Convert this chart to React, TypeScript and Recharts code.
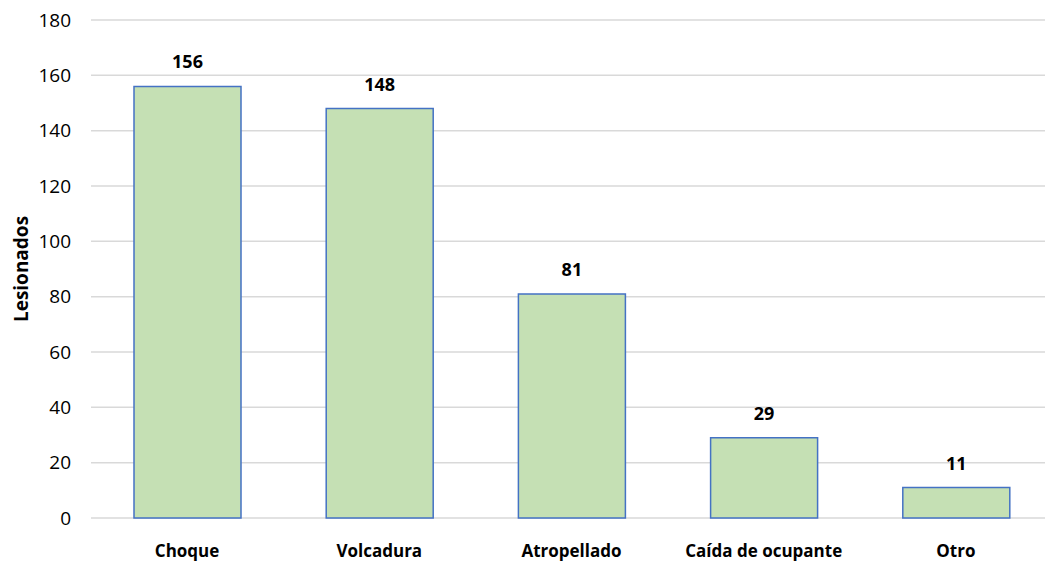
import React from 'react';
import { BarChart, Bar, XAxis, YAxis, CartesianGrid, LabelList } from 'recharts';

const categories = ['Choque', 'Volcadura', 'Atropellado', 'Caída de ocupante', 'Otro'];
const lesionados = [156, 148, 81, 29, 11];
const yTicks = [0, 20, 40, 60, 80, 100, 120, 140, 160, 180];

const data = categories.map((c, i) => ({ name: c, value: lesionados[i] }));

const FONT = "'Open Sans', 'Noto Sans', sans-serif";

const YLabel = (props: any) => {
  const vb = props.viewBox || {};
  const x = vb.x + 21;
  const y = vb.y + vb.height / 2;
  return (
    <text
      x={x}
      y={y}
      transform={`rotate(-90, ${x}, ${y})`}
      textAnchor="middle"
      dominantBaseline="central"
      fontFamily={FONT}
      fontWeight="bold"
      fontSize={19}
      fill="#000"
    >
      Lesionados
    </text>
  );
};

export default function App() {
  return (
    <div style={{ position: 'absolute', top: 0, left: 0, width: 1045, height: 566, overflow: 'hidden', background: '#fff' }}>
      <BarChart
        width={1052}
        height={566}
        data={data}
        margin={{ top: 20, right: 0, bottom: 8, left: 0 }}
      >
        <CartesianGrid vertical={false} stroke="#d9d9d9" strokeWidth={1.5} />
        <XAxis
          dataKey="name"
          axisLine={false}
          tickLine={false}
          tickSize={0}
          tickMargin={27}
          height={40}
          interval={0}
          tick={{ fontFamily: FONT, fontWeight: 'bold', fontSize: 17, fill: '#000' }}
        />
        <YAxis
          width={91}
          domain={[0, 180]}
          ticks={yTicks}
          axisLine={false}
          tickLine={false}
          tickSize={0}
          tickMargin={20}
          tick={{ fontFamily: FONT, fontSize: 19, fill: '#000' }}
          label={{ content: YLabel }}
        />
        <Bar
          dataKey="value"
          fill="#C5E0B4"
          stroke="#4472C4"
          strokeWidth={1.5}
          barSize={107}
          isAnimationActive={false}
        >
          <LabelList
            dataKey="value"
            position="top"
            offset={18}
            fontFamily={FONT}
            fontWeight="bold"
            fontSize={18}
            fill="#000"
          />
        </Bar>
      </BarChart>
    </div>
  );
}
